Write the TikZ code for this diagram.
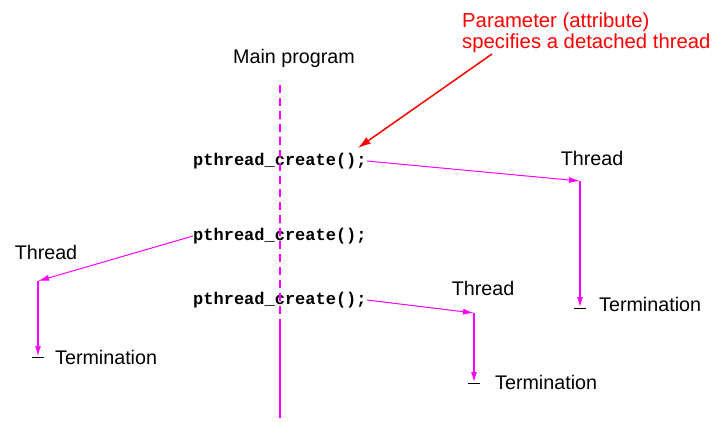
\documentclass[tikz,border=0pt]{standalone}
\usepackage{fontspec}
\setmainfont{Liberation Sans}
\newfontfamily\codefont{Liberation Mono}
\usetikzlibrary{arrows.meta,positioning}
\definecolor{threadpink}{RGB}{255,0,255}
\definecolor{notered}{RGB}{255,0,0}

\begin{document}
\begin{tikzpicture}[x=1pt,y=-1pt,>={Latex[length=11pt,width=6pt]},font=\fontsize{19.7}{21}\selectfont]
\tikzstyle{lbl}=[inner sep=0pt,text=black]
\tikzstyle{code}=[inner sep=0pt,anchor=west,font=\codefont\bfseries\fontsize{17}{19}\selectfont]
\tikzstyle{note}=[inner sep=0pt,anchor=west,align=left,text=notered,font=\fontsize{20.3}{21}\selectfont]
\tikzstyle{spawn}=[->,draw=threadpink,line width=1pt]
\tikzstyle{run}=[->,draw=threadpink,line width=1.8pt]
\tikzstyle{main}=[draw=threadpink,line width=2pt]
\tikzstyle{stop}=[draw=black,line width=1pt]

\useasboundingbox (0,0) rectangle (713,421);

% main program
\node[lbl]  (M)  at (294,58)  {Main program};
\coordinate (M1) at (280,85);
\coordinate (M2) at (280,319);
\coordinate (M3) at (280,418);

\node[code] (A) at (193,161) {pthread\_create();};
\node[code] (B) at (193,236) {pthread\_create();};
\node[code] (C) at (193,300) {pthread\_create();};

% threads
\coordinate (D) at (580,181);
\coordinate (E) at (580,308);
\node[lbl]  (F) at (592,158) {Thread};
\node[lbl]  (G) [right=19pt of E,yshift=4pt] {Termination};

\coordinate (H) at (38,281);
\coordinate (I) at (38,357);
\node[lbl]  (J) at (46,252) {Thread};
\node[lbl]  (K) [right=17pt of I] {Termination};

\coordinate (L) at (474,313);
\coordinate (N) at (474,383);
\node[lbl]  (O) at (483,288) {Thread};
\node[lbl]  (S) [right=21pt of N,yshift=1pt] {Termination};

% detached attribute
\node[note] (P) at (462,33) {Parameter (attribute)\\specifies a detached thread};
\coordinate (Q) at (492,54);

\path
(M1) edge[main,dash pattern=on 8pt off 5pt] (M2)
(M2) edge[main] (M3)
(A.east) edge[spawn] (D)
(D) edge[run] (E)
(B.west) edge[spawn] (H)
(H) edge[run] (I)
(C.east) edge[spawn] (L)
(L) edge[run] (N)
(Q) edge[->,draw=notered,line width=1.5pt,>={Latex[length=13pt,width=8pt]}] ([shift={(-9,-13)}]A.east)
;
\draw[stop] ([xshift=-6pt]E) -- ([xshift=6pt]E);
\draw[stop] ([xshift=-6pt]I) -- ([xshift=6pt]I);
\draw[stop] ([xshift=-6pt]N) -- ([xshift=6pt]N);
\end{tikzpicture}
\end{document}
